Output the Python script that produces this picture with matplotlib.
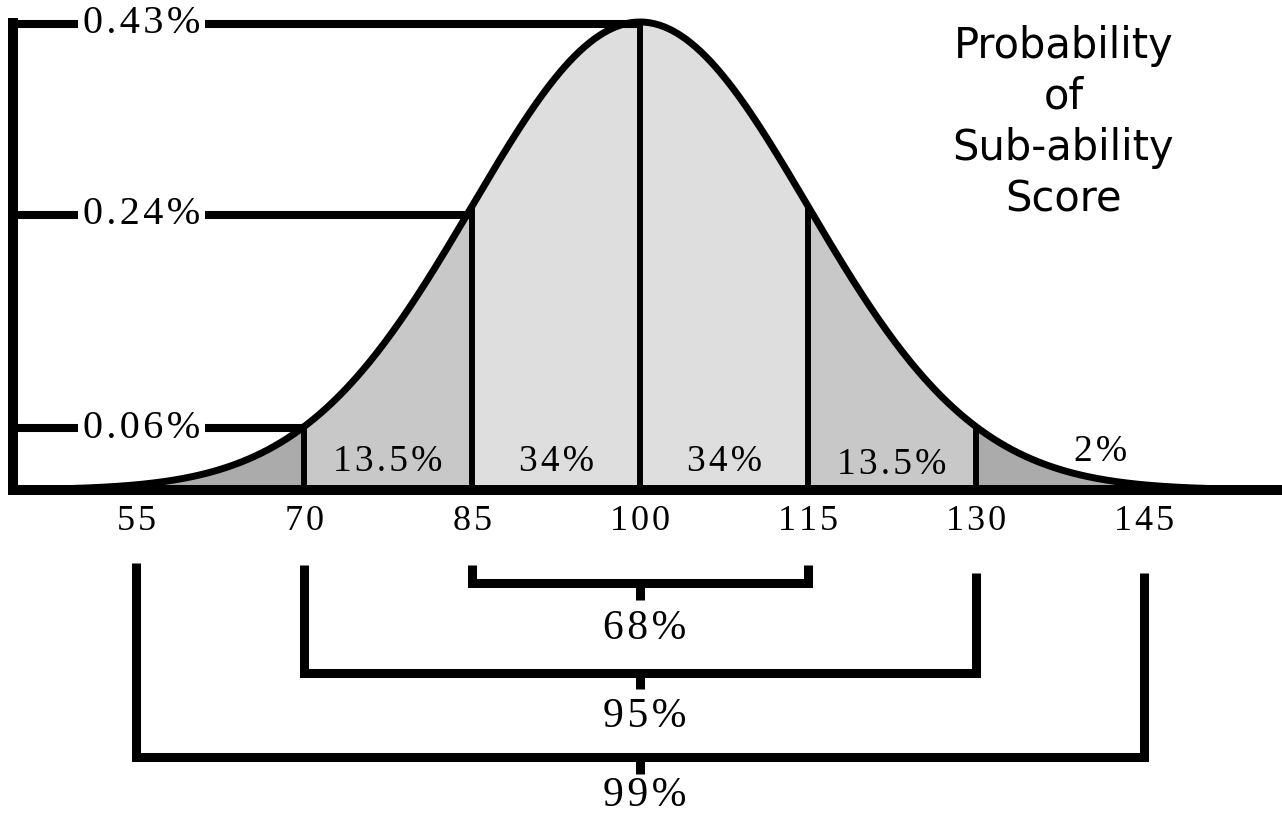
import numpy as np
import matplotlib
matplotlib.use("Agg")
import matplotlib.pyplot as plt

# Scores marked under the curve (mean 100, sd 15)
scores = [55, 70, 85, 100, 115, 130, 145]
mean_score = 100
sd_score = 15

# Shaded regions and their percentage labels
region_edges = [(55, 70), (70, 85), (85, 100), (100, 115), (115, 130), (130, 145)]
region_labels = ["", "13.5%", "34%", "34%", "13.5%", "2%"]
region_colors = ["#ababab", "#c8c8c8", "#dedede", "#dedede", "#c8c8c8", "#ababab"]

# Probability markers on the left (label, score where the line meets the curve, height)
prob_labels = ["0.43%", "0.24%", "0.06%"]
prob_scores = [100, 85, 70]
prob_heights = [0.996, 0.588, 0.132]

# Brackets below the axis
bracket_labels = ["68%", "95%", "99%"]
bracket_ranges = [(85, 115), (70, 130), (55, 145)]

serif = ["Liberation Serif", "DejaVu Serif"]


def spaced(s):
    # the original lettering is a little letter-spaced
    return "\u200a".join(s)


fig = plt.figure(figsize=(12.82, 8.15), dpi=100)
ax = fig.add_axes([0, 0, 1, 1])
ax.set_xlim(42.857, 157.32)
ax.set_ylim(-0.6944, 1.047)
ax.axis("off")


def curve(x):
    return np.exp(-0.5 * ((np.asarray(x) - mean_score) / sd_score) ** 2)


x_left = 44.0

# fills
for (lo, hi), col in zip(region_edges, region_colors):
    xs = np.linspace(lo, hi, 200)
    ax.fill_between(xs, 0, curve(xs), color=col, lw=0, zorder=1)

# dividers
for s in scores[1:-1]:
    ax.plot([s, s], [0, curve(s)], color="black", lw=4.3, solid_capstyle="butt", zorder=3)

# the curve
xs = np.linspace(x_left, 157.32, 800)
ax.plot(xs, curve(xs), color="black", lw=5, zorder=4, solid_joinstyle="round")

# left axis + baseline
ax.plot([x_left, x_left, 157.32], [1.009, 0, 0], color="black", lw=7.2,
        solid_joinstyle="miter", solid_capstyle="butt", zorder=5)

# probability markers
for lab, s, h in zip(prob_labels, prob_scores, prob_heights):
    ax.plot([x_left, s], [h, h], color="black", lw=5.8, solid_capstyle="butt", zorder=2)
    ax.text(55.5, h, spaced(lab), fontsize=29, family=serif, ha="center", va="center",
            zorder=6, bbox=dict(boxstyle="square,pad=0.12", fc="white", ec="none"))

# region labels
offsets = [0, 0, 0, 0, 0, 3.6]
label_y = [0, 0.060, 0.060, 0.060, 0.053, 0.081]
for (lo, hi), lab, dx, ly in zip(region_edges, region_labels, offsets, label_y):
    if lab:
        ax.text((lo + hi) / 2 + dx, ly, spaced(lab), fontsize=27, family=serif,
                ha="center", va="center", zorder=6)

# score labels
for s in scores:
    ax.text(s, -0.068, spaced(str(s)), fontsize=26, family=serif, ha="center", va="center")

# brackets
bracket_tops = [(-0.160, -0.160), (-0.160, -0.177), (-0.156, -0.177)]
bracket_levels = [-0.199, -0.391, -0.571]
label_drop = [0.098, 0.094, 0.082]
for (lo, hi), lab, (tl, tr), lev, dy in zip(bracket_ranges, bracket_labels, bracket_tops,
                                             bracket_levels, label_drop):
    ax.plot([lo, lo, hi, hi], [tl, lev, lev, tr], color="black", lw=6.5,
            solid_joinstyle="miter", solid_capstyle="butt")
    ax.plot([mean_score, mean_score], [lev, lev - 0.035], color="black", lw=6.5,
            solid_capstyle="butt")
    ax.text(mean_score + 0.4, lev - dy, spaced(lab), fontsize=30, family=serif,
            ha="center", va="center")

# title
ax.text(137.8, 0.785, "Probability\nof\nSub-ability\nScore", fontsize=30,
        family="DejaVu Sans", ha="center", va="center", linespacing=1.28)

fig.savefig("out.png", dpi=100)
